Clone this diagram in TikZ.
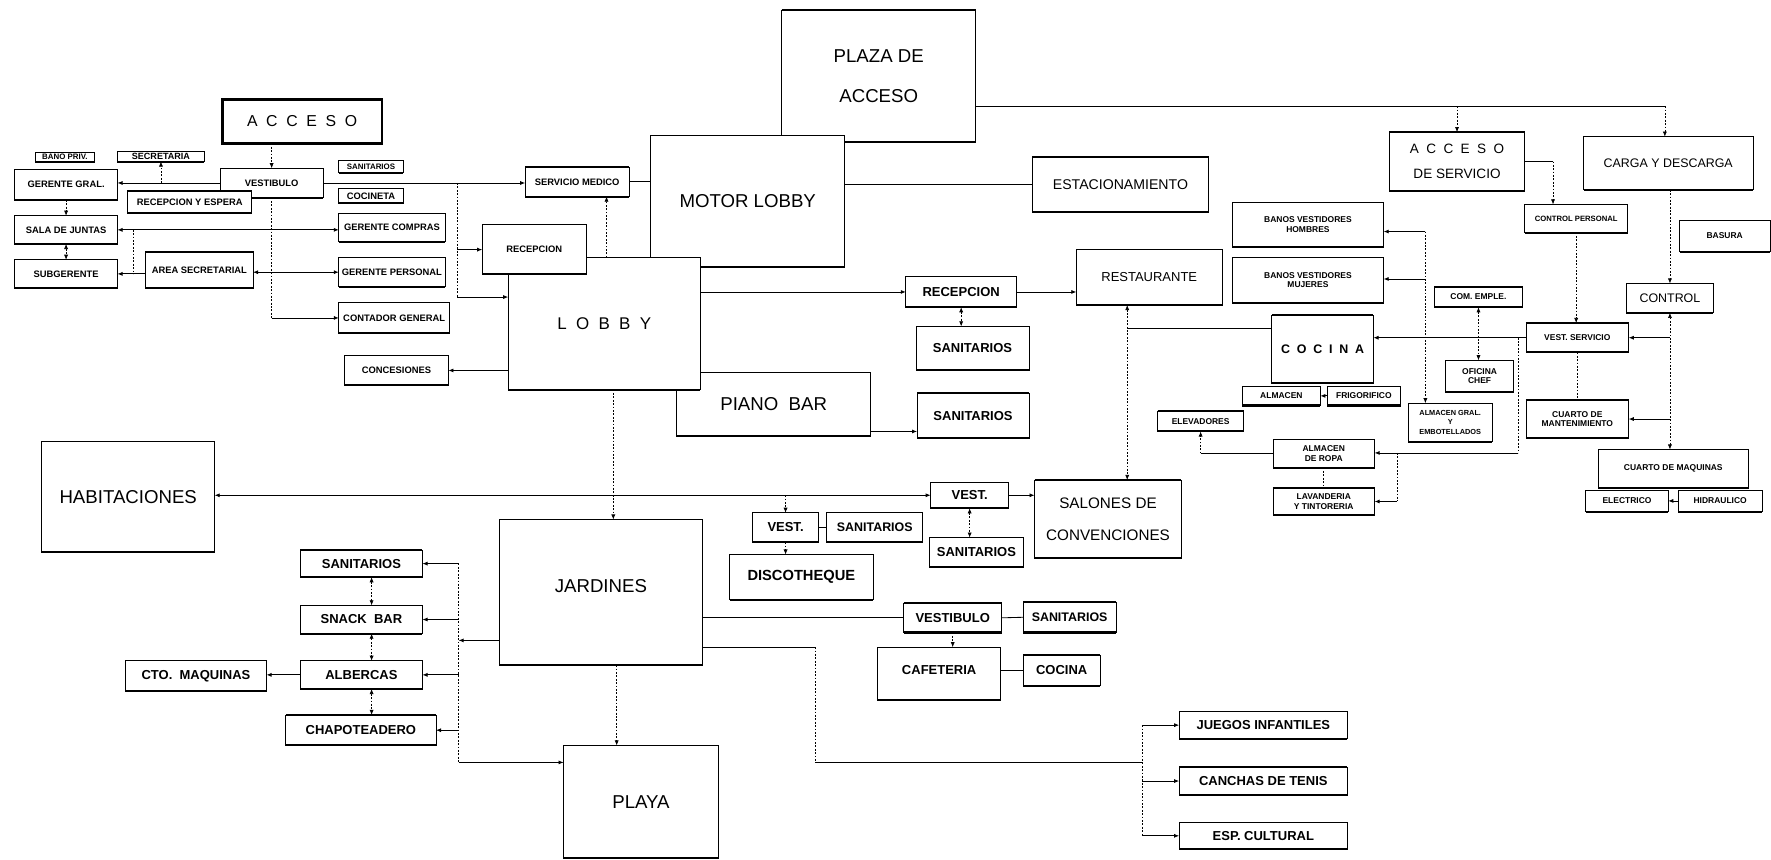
\documentclass[tikz,border=0pt]{standalone}
\usepackage{fontspec}
\setmainfont{Liberation Sans}
\usetikzlibrary{arrows.meta}
\newcommand\lsp{\hspace{0.55em}}
\begin{document}
\begin{tikzpicture}[x=1pt,y=-1pt,
  bx/.style={draw, line width=0.7pt, fill=white, inner sep=0pt, outer sep=0pt,
    append after command={(\tikzlastnode.south west) edge[draw, solid, line width=1.8pt] (\tikzlastnode.south east)
      (\tikzlastnode.north west) edge[draw, solid, line width=1.2pt] (\tikzlastnode.north east)}},
  bb/.style n args={4}{minimum width={#3-#1}, minimum height={#4-#2}, at={({(#1+#3)/2},{(#2+#4)/2})}},
  ml/.style={align=center},
  fT/.style={font=\fontsize{7.5}{8.5}\selectfont\bfseries},
  fS/.style={font=\fontsize{8.3}{9.5}\selectfont\bfseries},
  fM/.style={font=\fontsize{11.5}{13}\selectfont\bfseries},
  fL/.style={font=\fontsize{16.5}{19}\selectfont},
  ln/.style={line width=0.75pt},
  dt/.style={line width=0.6pt, dash pattern=on 1.6pt off 1.4pt},
  ar/.style={-{Latex[length=4.5pt,width=3.6pt]}},
  ra/.style={{Latex[length=4.5pt,width=3.6pt]}-},
  dar/.style={{Latex[length=4.5pt,width=3.6pt]}-{Latex[length=4.5pt,width=3.6pt]}}]
\fill[white] (0,0) rectangle (1568,761);
\useasboundingbox (0,0) rectangle (1568,761);

% ---------- administration (top left)
\node[bx, line width=2.2pt, font=\fontsize{14}{16}\selectfont, bb={197}{88}{338}{127}] (acc) {A\lsp C\lsp C\lsp E\lsp S\lsp O};
\node[bx, font=\fontsize{7}{8}\selectfont\bfseries, bb={31}{135}{84}{143}] (bano) {BANO PRIV.};
\node[bx, font=\fontsize{8}{9}\selectfont\bfseries, bb={104}{134}{181}{143}] (secr) {SECRETARIA};
\node[bx, font=\fontsize{7}{8}\selectfont\bfseries, bb={300}{142}{357}{153}] (san1) {SANITARIOS};
\node[bx, fS, bb={13}{150}{104}{177}] (gg) {GERENTE GRAL.};
\node[bx, fS, bb={195}{149}{286}{175}] (vestb) {VESTIBULO};
\node[bx, fS, bb={113}{169}{223}{189}] (rye) {RECEPCION Y ESPERA};
\node[bx, fS, bb={300}{167}{357}{180}] (coc) {COCINETA};
\node[bx, fS, bb={13}{191}{104}{216}] (sj) {SALA DE JUNTAS};
\node[bx, fS, bb={300}{189}{394}{214}] (gc) {GERENTE COMPRAS};
\node[bx, fS, bb={13}{230}{104}{255}] (sub) {SUBGERENTE};
\node[bx, fS, bb={129}{223}{224}{255}] (as) {AREA SECRETARIAL};
\node[bx, fS, bb={300}{228}{394}{254}] (gp) {GERENTE PERSONAL};
\node[bx, fS, bb={300}{268}{398}{295}] (cg) {CONTADOR GENERAL};
\node[bx, fS, bb={305}{315}{397}{341}] (con) {CONCESIONES};

% ---------- centre
\node[bx, fS, bb={465}{148}{557}{174}] (sm) {SERVICIO MEDICO};
\node[bx, fL, ml, bb={692}{9}{864}{126}] (plaza) {PLAZA DE\\[17pt]ACCESO};
\node[bx, fL, bb={576}{120}{748}{236}] (motor) {MOTOR LOBBY};
\node[bx, fL, bb={599}{330}{771}{386}] (piano) {PIANO\ \ BAR};
\node[bx, font=\fontsize{15}{17}\selectfont, bb={450}{228}{620}{345}] (lobby) {L\lsp O\lsp B\lsp B\lsp Y};
\node[bx, fS, bb={427}{199}{519}{243}] (rec1) {RECEPCION};
\node[bx, font=\fontsize{12.5}{14}\selectfont, bb={914}{139}{1070}{188}] (est) {ESTACIONAMIENTO};
\node[bx, fM, bb={802}{245}{900}{272}] (rec2) {RECEPCION};
\node[bx, fM, bb={811}{289}{911}{328}] (san2) {SANITARIOS};
\node[bx, fM, bb={812}{348}{911}{388}] (san3) {SANITARIOS};
\node[bx, font=\fontsize{11.5}{13}\selectfont, bb={953}{221}{1082}{270}] (rest) {RESTAURANTE};

% ---------- service (right)
\node[bx, fT, ml, bb={1091}{179}{1225}{219}] (bh) {BANOS VESTIDORES\\HOMBRES};
\node[bx, fT, ml, bb={1091}{228}{1225}{268}] (bm) {BANOS VESTIDORES\\MUJERES};
\node[bx, font=\fontsize{11}{13}\selectfont\bfseries, bb={1126}{279}{1216}{339}] (cocina) {C\lsp O\lsp C\lsp I\lsp N\lsp A};
\node[bx, fT, bb={1100}{342}{1169}{359}] (alm) {ALMACEN};
\node[bx, fT, bb={1175}{342}{1240}{359}] (frig) {FRIGORIFICO};
\node[bx, fT, bb={1025}{364}{1101}{382}] (elev) {ELEVADORES};
\node[bx, fT, ml, bb={1127}{389}{1217}{414}] (ropa) {ALMACEN\\DE ROPA};
\node[bx, fT, ml, bb={1127}{432}{1217}{456}] (lav) {LAVANDERIA\\Y TINTORERIA};
\node[bx, ml, font=\fontsize{6.5}{8.5}\selectfont\bfseries, bb={1247}{357}{1321}{391}] (ag) {ALMACEN GRAL.\\Y\\EMBOTELLADOS};
\node[bx, fT, bb={1270}{254}{1348}{272}] (com) {COM. EMPLE.};
\node[bx, fT, ml, bb={1280}{319}{1340}{347}] (chef) {OFICINA\\CHEF};
\node[bx, fT, bb={1351}{286}{1442}{312}] (vs) {VEST. SERVICIO};
\node[bx, fT, ml, bb={1351}{354}{1442}{388}] (cm) {CUARTO DE\\MANTENIMIENTO};
\node[bx, fT, bb={1415}{398}{1548}{432}] (cmaq) {CUARTO DE MAQUINAS};
\node[bx, fT, bb={1404}{434}{1477}{453}] (elec) {ELECTRICO};
\node[bx, fT, bb={1486}{434}{1560}{453}] (hid) {HIDRAULICO};
\node[bx, font=\fontsize{11}{13}\selectfont, bb={1440}{251}{1517}{277}] (ctl) {CONTROL};
\node[bx, fT, bb={1487}{195}{1567}{223}] (bas) {BASURA};
\node[bx, font=\fontsize{6.8}{8}\selectfont\bfseries, bb={1350}{181}{1441}{206}] (cp) {CONTROL PERSONAL};
\node[bx, ml, font=\fontsize{12}{14}\selectfont, bb={1230}{117}{1350}{169}] (as2) {A\lsp C\lsp C\lsp E\lsp S\lsp O\\[8pt]DE SERVICIO};
\node[bx, font=\fontsize{11}{13}\selectfont, bb={1402}{121}{1552}{168}] (cd) {CARGA Y DESCARGA};

% ---------- lower part
\node[bx, fL, bb={37}{391}{190}{489}] (hab) {HABITACIONES};
\node[bx, fM, bb={824}{427}{893}{450}] (vest2) {VEST.};
\node[bx, ml, font=\fontsize{13.5}{16}\selectfont, bb={916}{425}{1046}{494}] (salones) {SALONES DE\\[12pt]CONVENCIONES};
\node[bx, fM, bb={823}{476}{906}{502}] (san4) {SANITARIOS};
\node[bx, fM, bb={666}{454}{725}{480}] (vest3) {VEST.};
\node[bx, font=\fontsize{11}{13}\selectfont\bfseries, bb={732}{454}{817}{480}] (san5) {SANITARIOS};
\node[bx, font=\fontsize{13}{15}\selectfont\bfseries, bb={646}{491}{773}{531}] (disco) {DISCOTHEQUE};
\node[bx, fL, bb={442}{460}{622}{589}] (jard) {\raisebox{12pt}{JARDINES}};
\node[bx, fM, bb={800}{534}{887}{560}] (vest4) {VESTIBULO};
\node[bx, font=\fontsize{11}{13}\selectfont\bfseries, bb={906}{533}{988}{560}] (san6) {SANITARIOS};
\node[bx, fM, bb={777}{573}{886}{620}] (caf) {\raisebox{6pt}{CAFETERIA}};
\node[bx, fM, bb={906}{580}{974}{607}] (coc2) {COCINA};
\node[bx, fL, bb={499}{660}{636}{760}] (playa) {PLAYA};
\node[bx, fM, bb={1044}{630}{1193}{654}] (jue) {JUEGOS INFANTILES};
\node[bx, fM, bb={1044}{679}{1193}{704}] (can) {CANCHAS DE TENIS};
\node[bx, fM, bb={1044}{728}{1193}{752}] (esp) {ESP. CULTURAL};
\node[bx, fM, bb={266}{487}{374}{511}] (san7) {SANITARIOS};
\node[bx, fM, bb={266}{536}{374}{561}] (snack) {SNACK\ \ BAR};
\node[bx, fM, bb={266}{585}{374}{610}] (alb) {ALBERCAS};
\node[bx, fM, bb={111}{585}{236}{612}] (cto) {CTO.\ \ MAQUINAS};
\node[bx, fM, bb={253}{633}{386}{660}] (chap) {CHAPOTEADERO};

% ---------- connectors: administration
\draw[dt,ar] (acc.south -| vestb.north) -- (vestb.north);
\draw[ln,ar] (vestb.west) -- (vestb.west -| gg.east);
\draw[dt,ar] (secr.south |- vestb.west) -- (secr.south);
\draw[dt,ar] (gg.south) -- (sj.north);
\draw[dt,dar] (sj.south) -- (sub.north);
\draw[ln,dar] (sj.east) -- (sj.east -| gc.west);
\coordinate (ja) at (118,203.5);
\coordinate (jb) at (118,242.5);
\draw[dt] (ja) -- (jb);
\draw[ln,ar] (as.west |- sub.east) -- (sub.east);
\draw[ln,dar] (as.east |- gp.west) -- (gp.west);
\draw[dt] (vestb.south) -- (vestb.south |- cg.west);
\draw[ln,ar] (vestb.south |- cg.west) -- (cg.west);
\draw[ln,ar] (vestb.east) -- (vestb.east -| sm.west);
\coordinate (va) at (405,162);
\coordinate (vb) at (405,263);
\draw[dt] (va) -- (vb);
\draw[ln,ar] (va |- rec1.west) -- (rec1.west);
\draw[ln,ar] (vb) -- (vb -| lobby.west);
\draw[ln] (sm.east) -- (sm.east -| motor.west);
\draw[dt,ar] (lobby.north -| 537,0) -- (sm.south -| 537,0);
\draw[ln,ar] (lobby.west |- con.east) -- (con.east);

% ---------- connectors: centre
\draw[ln,ar] (lobby.east |- rec2.west) -- (rec2.west);
\draw[ln,ar] (rec2.east) -- (rec2.east -| rest.west);
\draw[dt,dar] (rec2.south) -- (rec2.south |- san2.north);
\draw[ln,ar] (piano.east |- 0,382) -- (san3.west |- 0,382);
\draw[ln] (motor.east |- est.west) -- (est.west);

% ---------- connectors: service
\coordinate (ta) at (1474,94);
\draw[ln] (plaza.east |- ta) -- (ta);
\draw[dt,ar] (ta) -- (ta |- cd.north);
\draw[dt,ar] (as2.north |- ta) -- (as2.north);
\coordinate (tb) at (1375,143);
\draw[ln] (as2.east |- tb) -- (tb);
\draw[dt,ar] (tb) -- (tb |- cp.north);
\draw[dt,ar] (cp.south) -- (cp.south |- vs.north);
\draw[dt,ar] (ctl.north |- cd.south) -- (ctl.north);
\draw[dt,dar] (ctl.south) -- (ctl.south |- cmaq.north);
\draw[ln,ar] (ctl.south |- vs.east) -- (vs.east);
\draw[ln,ar] (ctl.south |- cm.east) -- (cm.east);
\draw[dt] (vs.south) -- (vs.south |- cm.north);
\draw[ln,ar] (vs.west) -- (vs.west -| cocina.east);
\coordinate (ka) at (1344,299);
\coordinate (kb) at (1344,401);
\draw[dt] (ka) -- (kb);
\draw[ln,ar] (kb) -- (kb -| ropa.east);
\coordinate (la) at (1237,401);
\coordinate (lb) at (1237,444);
\draw[dt] (la) -- (lb);
\draw[ln,ar] (lb) -- (lb -| lav.east);
\draw[ln] (ropa.west) -- (ropa.west -| elev.south);
\draw[dt,ar] (ropa.west -| elev.south) -- (elev.south);
\draw[dt] (ropa.south) -- (ropa.south |- lav.north);
\draw[ln,ra] (alm.east) -- (frig.west);
\draw[ln,ra] (elec.east) -- (hid.west);
\coordinate (ra) at (998,291);
\draw[ln] (cocina.west |- ra) -- (ra);
\draw[dt,dar] (ra |- rest.south) -- (ra |- salones.north);
\coordinate (ma) at (1262,205);
\draw[ln,ar] (ma) -- (ma -| bh.east);
\draw[ln,ar] (ma |- 0,247) -- (bm.east |- 0,247);
\draw[dt,ar] (ma) -- (ma |- ag.north);
\draw[dt,dar] (com.south) -- (com.south |- chef.north);

% ---------- connectors: lower part
\draw[ln,dar] (hab.east |- vest2.west) -- (vest2.west);
\draw[ln,ar] (vest2.east) -- (vest2.east -| salones.west);
\draw[dt,dar] (vest2.south) -- (vest2.south |- san4.north);
\draw[dt,ar] (vest3.north |- vest2.west) -- (vest3.north);
\draw[ln] (vest3.east) -- (san5.west);
\draw[dt,ar] (vest3.south) -- (vest3.south |- disco.north);
\draw[dt,ar] (lobby.south -| 543,0) -- (jard.north -| 543,0);
\draw[ln] (jard.east |- vest4.west) -- (vest4.west);
\draw[ln] (vest4.east) -- (san6.west);
\draw[dt,ar] (vest4.south) -- (vest4.south |- caf.north);
\draw[ln] (caf.east |- coc2.west) -- (coc2.west);
\coordinate (pa) at (722,573);
\coordinate (pb) at (722,675);
\coordinate (pc) at (1011,675);
\draw[ln] (jard.east |- pa) -- (pa);
\draw[dt] (pa) -- (pb);
\draw[ln] (pb) -- (pc);
\draw[dt] (pc |- jue.west) -- (pc |- esp.west);
\draw[ln,ar] (pc |- jue.west) -- (jue.west);
\draw[ln,ar] (pc |- can.west) -- (can.west);
\draw[ln,ar] (pc |- esp.west) -- (esp.west);
\draw[dt,ar] (jard.south -| 546,0) -- (playa.north -| 546,0);
\coordinate (qa) at (406,499);
\coordinate (qb) at (406,675);
\draw[ln,ar] (jard.west |- 0,567) -- (qa |- 0,567);
\draw[dt] (qa) -- (qb);
\draw[ln,ar] (qa) -- (qa -| san7.east);
\draw[ln,ar] (qa |- snack.east) -- (snack.east);
\draw[ln,ar] (qa |- alb.east) -- (alb.east);
\draw[ln,ar] (qa |- chap.east) -- (chap.east);
\draw[ln,ar] (qb) -- (qb -| playa.west);
\draw[dt,dar] (san7.south -| 329,0) -- (snack.north -| 329,0);
\draw[dt,dar] (snack.south -| 329,0) -- (alb.north -| 329,0);
\draw[dt,dar] (alb.south -| 329,0) -- (chap.north -| 329,0);
\draw[ln,ar] (alb.west) -- (alb.west -| cto.east);
\end{tikzpicture}
\end{document}
